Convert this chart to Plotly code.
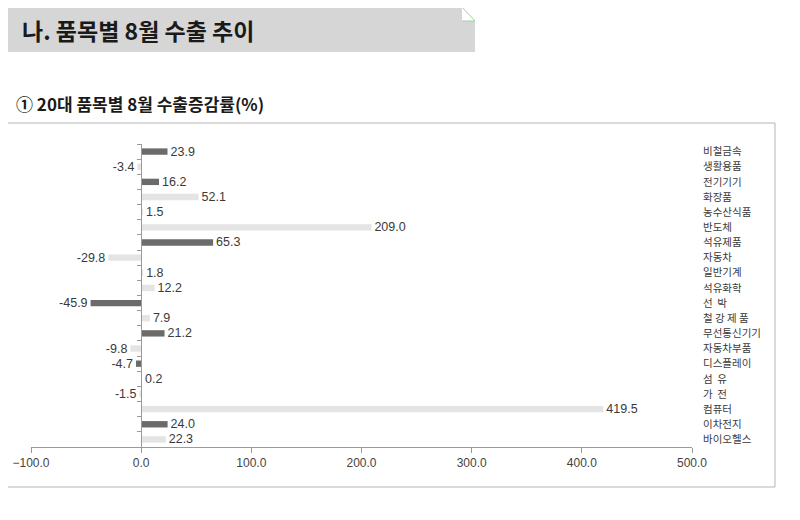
import plotly.graph_objects as go

# 20대 품목 (위에서 아래 순서)
items = ["비철금속", "생활용품", "전기기기", "화장품", "농수산식품", "반도체", "석유제품",
         "자동차", "일반기계", "석유화학", "선\u00a0\u00a0박", "철\u00a0강\u00a0제\u00a0품",
         "무선통신기기", "자동차부품", "디스플레이", "섬\u00a0\u00a0유", "가\u00a0\u00a0전",
         "컴퓨터", "이차전지", "바이오헬스"]
growth = [23.9, -3.4, 16.2, 52.1, 1.5, 209.0, 65.3, -29.8, 1.8, 12.2, -45.9, 7.9,
          21.2, -9.8, -4.7, 0.2, -1.5, 419.5, 24.0, 22.3]
dark = [1, 0, 1, 0, 0, 0, 1, 0, 0, 0, 1, 0, 1, 0, 1, 0, 0, 0, 1, 0]
x_ticks = [-100, 0, 100, 200, 300, 400, 500]

DARK = "#6b6b6b"
LIGHT = "#e4e4e4"
FONT = "Noto Sans CJK KR"
NUM_FONT = "Liberation Sans Narrow, Liberation Sans, Arial"

# plot area in page pixels; the page body adds an 8px offset
OFF = 8
L, R, T, B = 31, 692, 144, 447


def px(x):
    return (x - L) / (R - L)


def py(y):
    return (B - y) / (B - T)


fig = go.Figure()
fig.add_trace(go.Bar(
    x=growth,
    y=items,
    orientation="h",
    marker=dict(color=[DARK if d else LIGHT for d in dark], line=dict(width=0)),
    text=[f"{v:.1f}" for v in growth],
    textposition="outside",
    constraintext="none",
    textfont=dict(size=12.5, color="#3a3a3a", family=NUM_FONT),
    cliponaxis=False,
    hoverinfo="x+y",
))
# invisible trace to carry the tick axis drawn at x=0
fig.add_trace(go.Scatter(x=[0], y=[0], yaxis="y2", mode="markers",
                         marker=dict(opacity=0), hoverinfo="skip"))

fig.update_layout(
    width=800, height=520,
    margin=dict(l=L - OFF, r=800 - (R - OFF), t=T - OFF, b=520 - (B - OFF), autoexpand=False),
    paper_bgcolor="white", plot_bgcolor="white",
    showlegend=False,
    bargap=0.58,
    font=dict(family=FONT, color="#333"),
    xaxis=dict(
        range=[-100, 500], tickvals=x_ticks, tickformat=".1f",
        showgrid=False, zeroline=False, automargin=False,
        showline=True, linecolor="#9a9a9a", linewidth=1,
        ticks="outside", ticklen=5, tickcolor="#9a9a9a",
        tickfont=dict(size=12, color="#444", family=NUM_FONT),
    ),
    yaxis=dict(
        side="right", autorange="reversed", showgrid=False, zeroline=False,
        automargin=False, tickmode="array", tickvals=items, ticktext=items,
        showline=False, ticks="", ticklabelstandoff=10,
        tickfont=dict(size=10.5, color="#3a3a3a"),
    ),
    yaxis2=dict(
        overlaying="y", anchor="free", position=1 / 6,
        range=[len(items) - 0.5, -0.5], automargin=False,
        tickvals=[i - 0.5 for i in range(len(items) + 1)],
        showticklabels=False, showgrid=False, zeroline=False,
        showline=True, linecolor="#9a9a9a", linewidth=1,
        ticks="outside", ticklen=4, tickcolor="#9a9a9a",
    ),
)

# chart frame
fig.add_shape(type="rect", xref="paper", yref="paper",
              x0=px(5), x1=px(775), y0=py(487), y1=py(123),
              line=dict(color="#b5b5b5", width=1), fillcolor="rgba(0,0,0,0)", layer="below")

# section header box with folded corner
hx0, hx1, hy0, hy1, fold = 8, 475, 52, 7, 13
fig.add_shape(type="path", xref="paper", yref="paper",
              path=(f"M {px(hx0)} {py(hy0)} L {px(hx0)} {py(hy1)} L {px(hx1 - fold)} {py(hy1)} "
                    f"L {px(hx1)} {py(hy1 + fold + 1)} L {px(hx1)} {py(hy0)} Z"),
              fillcolor="#d6d6d6", line=dict(width=0))
fig.add_shape(type="path", xref="paper", yref="paper",
              path=(f"M {px(hx1 - fold)} {py(hy1)} L {px(hx1)} {py(hy1 + fold + 1)} "
                    f"L {px(hx1 - fold)} {py(hy1 + fold + 1)} Z"),
              fillcolor="#ffffff", line=dict(width=0))
fig.add_shape(type="path", xref="paper", yref="paper",
              path=(f"M {px(hx1 - fold)} {py(hy1)} L {px(hx1)} {py(hy1 + fold + 1)} "
                    f"L {px(hx1 - fold)} {py(hy1 + fold + 1)}"),
              line=dict(color="#9fd49f", width=1))

fig.add_annotation(text="<b>나. 품목별 8월 수출 추이</b>", xref="paper", yref="paper",
                   x=px(20), y=py(30), xanchor="left", yanchor="middle", showarrow=False,
                   font=dict(size=23, color="#1a1a1a", family=FONT))
fig.add_annotation(text="<b>① 20대 품목별 8월 수출증감률(%)</b>", xref="paper", yref="paper",
                   x=px(14), y=py(103), xanchor="left", yanchor="middle", showarrow=False,
                   font=dict(size=17, color="#1a1a1a", family=FONT))

fig.write_html("out.html")
